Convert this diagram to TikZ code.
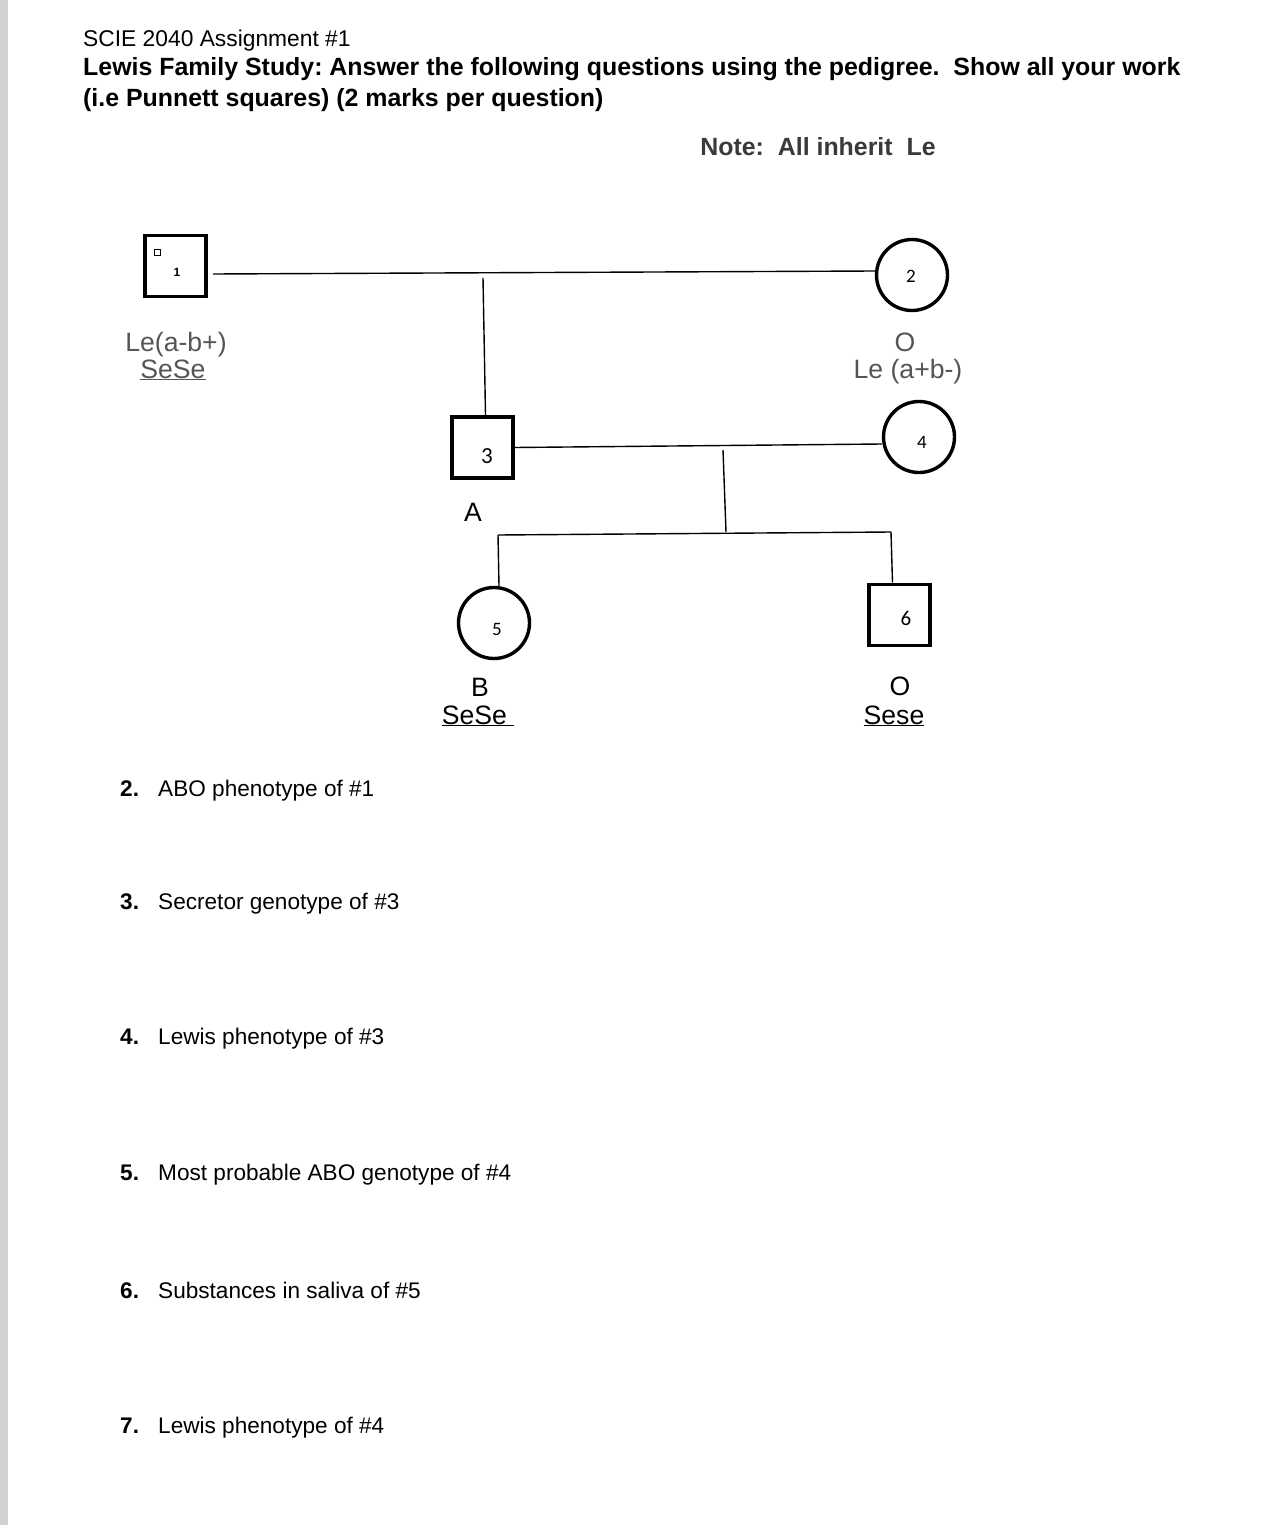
\documentclass[tikz,border=0pt]{standalone}
\usepackage{fontspec}
\setmainfont{Liberation Sans}
\newfontfamily\pedfont{Carlito}
\usetikzlibrary{positioning}
\definecolor{labelgray}{HTML}{555555}
\definecolor{notegray}{HTML}{3A3A3A}
\definecolor{edgegray}{HTML}{D2D2D2}
\frenchspacing

\begin{document}
\begin{tikzpicture}[x=1pt, y=-1pt,
  male/.style={draw, line width=3.6pt, minimum size=61pt, inner sep=0pt},
  female/.style={draw, circle, line width=3.4pt, minimum size=71pt, inner sep=0pt},
  tie/.style={line width=1.4pt},
  pnum/.style={font=\pedfont\fontsize{19}{19}\selectfont},
  lbl/.style={anchor=base, font=\fontsize{26.6}{30}\selectfont},
  head/.style={anchor=west, inner sep=0pt, font=\fontsize{22.8}{26}\selectfont},
  bold/.style={font=\bfseries\fontsize{24.9}{28}\selectfont},
  ask/.style={anchor=base west, inner sep=0pt, font=\fontsize{22.6}{26}\selectfont}]
\useasboundingbox (0,0) rectangle (1262,1525);
\fill[white] (0,0) rectangle (1262,1525);
\fill[edgegray] (0,0) rectangle (8,1525);

% heading
\node[head] (title) at (83,41) {SCIE 2040 Assignment \#1};
\node[head, bold] (task) at (83,69)
  {Lewis Family Study: Answer the following questions using the pedigree.\ \ Show all your work};
\node[head, bold] (task2) at (83,100)
  {(i.e Punnett squares) (2 marks per question)};
\node[bold, inner sep=0pt, text=notegray] (note) at (818,147)
  {Note:\ \ All inherit\ \ Le};

% generation I
\node[male] (p1) at (175.5,266) {};
\node[draw, line width=0.8pt, minimum size=6pt, inner sep=0pt] (mark1) at (157,252) {};
\node[font=\bfseries\fontsize{12}{12}\selectfont] (n1) at (177,272) {1};
\node[female] (p2) at (912,275) {};
\node[pnum] (n2) at (911,276) {2};

% generation II
\node[male] (p3) at (482.5,447.5) {};
\node[pnum, font=\pedfont\fontsize{23}{23}\selectfont] (n3) at (487,456) {3};
\node[female] (p4) at (919,437) {};
\node[pnum] (n4) at (922,442) {4};

% generation III
\node[female] (p5) at (494,623) {};
\node[pnum] (n5) at (497,629) {5};
\node[male] (p6) at (899.5,615) {};
\node[pnum, font=\pedfont\fontsize{21}{21}\selectfont] (n6) at (906,618) {6};

% lines
\coordinate (w1) at (213,274);
\coordinate (d12) at (483,278);
\coordinate (d34) at (723,450);
\coordinate (sib) at (726,532);
\coordinate (s5) at (498,535);
\coordinate (s6) at (891,532);
\draw[tie] (w1) -- ([yshift=4pt]p2.west);
\draw[tie] (d12) -- ([xshift=3pt]p3.north);
\draw[tie] (p3.east) -- ([yshift=-7pt]p4.west);
\draw[tie] (d34) -- (sib);
\draw[tie] (s5) -- (s6);
\draw[tie] (s5) -- ([xshift=5pt]p5.north);
\draw[tie] (s6) -- ([xshift=-7pt]p6.north);

% labels
\node[lbl, text=labelgray] (le1) at (176,351) {Le(a-b+)};
\node[lbl, text=labelgray] (se1) at (173,378) {\underline{SeSe}};
\node[lbl, text=labelgray] (abo2) at (905,351) {O};
\node[lbl, text=labelgray] (le2) at (908,378) {Le (a+b-)};
\node[lbl] (abo3) at (473,521) {A};
\node[lbl] (abo5) at (480,696) {B};
\node[lbl] (se5) at (478,724) {\underline{SeSe~}};
\node[lbl] (abo6) at (900,695) {O};
\node[lbl] (se6) at (894,724) {\underline{Sese}};

% questions
\foreach \qy/\qn/\qt in {796/2/ABO phenotype of \#1,
    909/3/Secretor genotype of \#3,
    1044/4/Lewis phenotype of \#3,
    1180/5/Most probable ABO genotype of \#4,
    1298/6/Substances in saliva of \#5,
    1433/7/Lewis phenotype of \#4}
  \node[ask] (q\qn) at (120,\qy) {\makebox[38pt][l]{\textbf{\qn.}}\qt};
\end{tikzpicture}
\end{document}
